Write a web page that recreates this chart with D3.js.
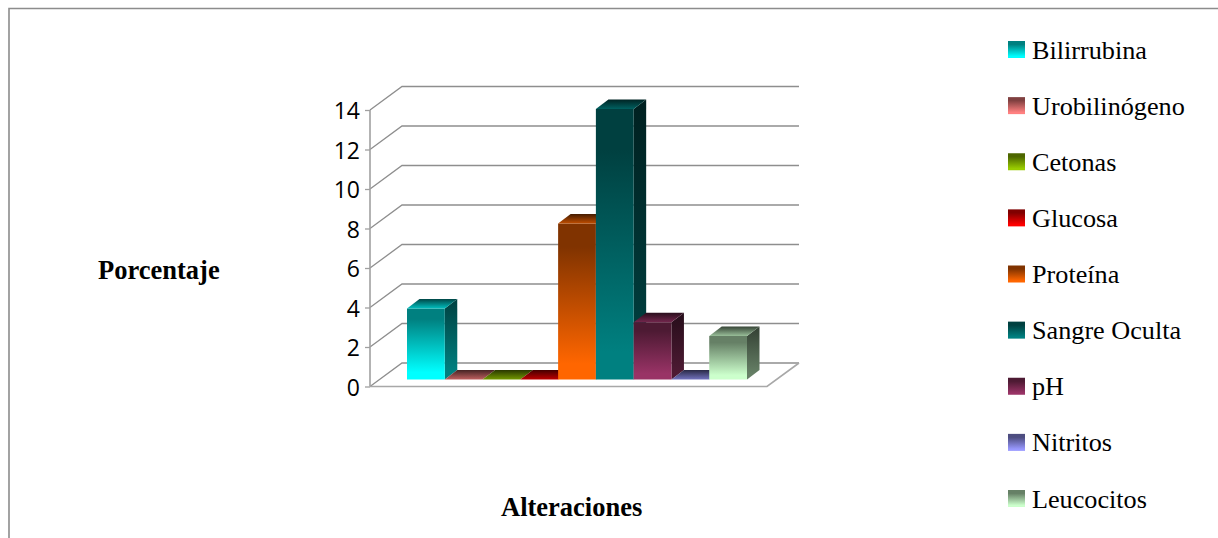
<!DOCTYPE html>
<html>
<head>
<meta charset="utf-8">
<script src="https://cdn.jsdelivr.net/npm/d3@7"></script>
<style>
  html, body { margin: 0; padding: 0; background: #fff; overflow: hidden; }
  svg { display: block; }
  text { fill: #000; }
</style>
</head>
<body>
<svg id="chart" width="1218" height="538"></svg>
<script>
// Urinalysis alterations, one 3D column per parameter
const categories = ["Bilirrubina", "Urobilinógeno", "Cetonas", "Glucosa", "Proteína", "Sangre Oculta", "pH", "Nitritos", "Leucocitos"];
const values = [3.6, 0, 0, 0, 7.9, 13.7, 2.9, 0, 2.2];
const colors = ["#00ffff", "#ff8080", "#99cc00", "#ff0000", "#ff6600", "#008080", "#993366", "#9999ff", "#ccffcc"];
const yTicks = [0, 2, 4, 6, 8, 10, 12, 14];

const svg = d3.select("#chart");
const defs = svg.append("defs");

// Front plane of the 3D box
const y = d3.scaleLinear().domain([0, 14]).range([386.5, 110]);
const plot = { left: 370, right: 767 };
const wall = { dx: 32, dy: -23.5 };          // full depth of the box
const slot = { dx: 9.5, dy: -7 };            // where the column fronts stand
const barDepth = { dx: 12.5, dy: -9.5 };     // depth of each column
const x = d3.scaleBand().domain(categories).range([407, 747]);

const scaleColor = (c, k) => {
  const r = d3.rgb(c);
  return d3.rgb(r.r * k, r.g * k, r.b * k).formatHex();
};

function gradient(id, stops) {
  const g = defs.append("linearGradient").attr("id", id)
    .attr("x1", 0).attr("y1", 0).attr("x2", 0).attr("y2", 1);
  stops.forEach(([o, c]) => g.append("stop").attr("offset", o).attr("stop-color", c));
}

categories.forEach((name, i) => {
  const c = colors[i];
  gradient(`front${i}`, [[0, scaleColor(c, .5)], [.15, scaleColor(c, .5)], [.9, c], [1, c]]);
  gradient(`side${i}`, [[0, scaleColor(c, .25)], [.9, scaleColor(c, .5)], [1, scaleColor(c, .5)]]);
  gradient(`top${i}`, [[0, scaleColor(c, .27)], [1, scaleColor(c, .75)]]);
  gradient(`key${i}`, [[0, scaleColor(c, .5)], [.2, scaleColor(c, .5)], [.9, c], [1, c]]);
});

// Frame around the chart area (open at the right and bottom)
svg.append("path")
  .attr("d", "M9,538V8.5H1218")
  .attr("fill", "none").attr("stroke", "#8c8c8c").attr("stroke-width", 1.6);

// Back wall grid, side wall diagonals, floor outline
const gridColor = "#8e8e8e";
const grid = svg.append("g").attr("fill", "none").attr("stroke", gridColor).attr("stroke-width", 1.3);
grid.selectAll("path.rung").data(yTicks).join("path").attr("class", "rung")
  .attr("d", t => {
    const p = d3.path();
    p.moveTo(plot.left, y(t));
    p.lineTo(plot.left + wall.dx, y(t) + wall.dy);
    p.lineTo(plot.right + wall.dx, y(t) + wall.dy);
    return p.toString();
  });
const floor = d3.path();
floor.moveTo(plot.left, y(0));
floor.lineTo(plot.right, y(0));
floor.lineTo(plot.right + wall.dx, y(0) + wall.dy);
grid.append("path").attr("d", floor.toString()).attr("stroke", "#a8a8a8").attr("stroke-width", 1.6);
const spine = d3.path();
spine.moveTo(plot.left, y(14));
spine.lineTo(plot.left, y(0));
grid.append("path").attr("d", spine.toString()).attr("stroke", "#a0a0a0").attr("stroke-width", 1.6);

// Value axis
const axis = svg.append("g").attr("transform", `translate(${plot.left},0)`)
  .call(d3.axisLeft(y).tickValues(yTicks).tickSize(5).tickPadding(5));
axis.select(".domain").remove();
axis.selectAll("line").attr("stroke", "#a0a0a0").attr("stroke-width", 1.3);
axis.selectAll("text").attr("font-family", "'Open Sans', sans-serif").attr("font-size", 23)
  .attr("fill", "#000").attr("dy", "0.38em");

// Columns, painted left to right so each one overlaps its neighbour's side
const bars = svg.append("g").selectAll("g").data(categories).join("g");
bars.each(function (name, i) {
  const g = d3.select(this);
  const x0 = x(name), x1 = x0 + x.bandwidth();
  const yb = y(0) + slot.dy, yt = y(values[i]) + slot.dy;
  const { dx, dy } = barDepth;
  const poly = pts => "M" + pts.map(p => p.join(",")).join("L") + "Z";
  if (values[i] > 0) {
    g.append("path").attr("fill", `url(#side${i})`)
      .attr("d", poly([[x1, yt], [x1 + dx, yt + dy], [x1 + dx, yb + dy], [x1, yb]]));
    g.append("path").attr("fill", `url(#front${i})`)
      .attr("d", poly([[x0, yt], [x1, yt], [x1, yb], [x0, yb]]));
  }
  g.append("path").attr("fill", `url(#top${i})`)
    .attr("d", poly([[x0, yt], [x0 + dx, yt + dy], [x1 + dx, yt + dy], [x1, yt]]));
});

// Legend
const legendY = d3.scalePoint().domain(categories).range([41, 490]);
const legend = svg.append("g").selectAll("g").data(categories).join("g")
  .attr("transform", d => `translate(1008,${legendY(d)})`);
legend.append("rect").attr("width", 17).attr("height", 17)
  .attr("fill", (d, i) => `url(#key${i})`);
legend.append("text").attr("x", 24).attr("y", 17.5)
  .attr("font-family", "'Liberation Serif', serif").attr("font-size", 26.2)
  .text(d => d);

// Axis titles
const title = (s, tx, ty) => svg.append("text").attr("x", tx).attr("y", ty)
  .attr("font-family", "'Liberation Serif', serif").attr("font-size", 26.5)
  .attr("font-weight", "bold").text(s);
title("Porcentaje", 98, 279);
title("Alteraciones", 501, 516);
</script>
</body>
</html>
